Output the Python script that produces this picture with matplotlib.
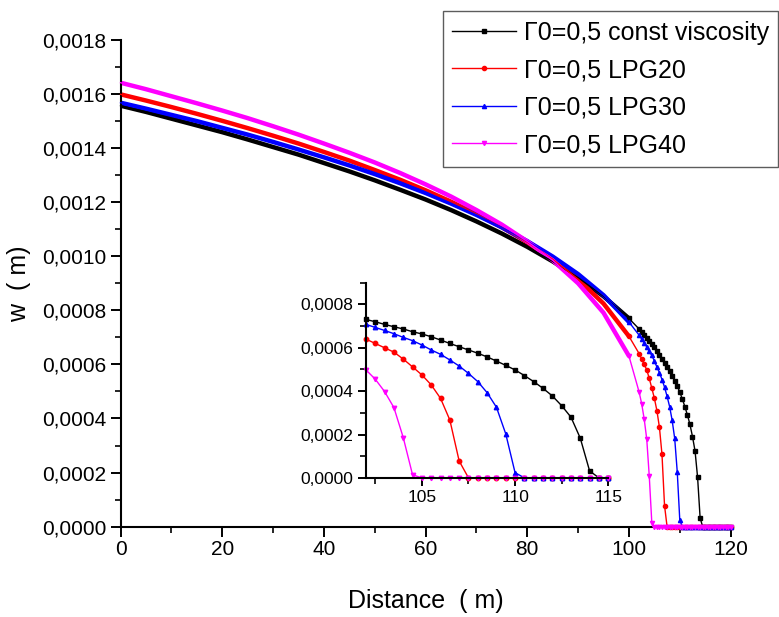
import numpy as np
import matplotlib
matplotlib.use("Agg")
import matplotlib.pyplot as plt
from matplotlib.lines import Line2D
from matplotlib.ticker import MultipleLocator, FuncFormatter

plt.rcParams['font.family'] = ['Liberation Sans', 'DejaVu Sans']

# distance (m): coarse part of the profile, then 0.5 m steps near the tip
x_coarse = [0, 5, 10, 15, 20, 25, 30, 35, 40, 45, 50,
            55, 60, 65, 70, 75, 80, 85, 90, 95, 100]
x_fine = list(np.arange(102, 120.5, 0.5))

labels = ["Γ0=0,5 const viscosity", "Γ0=0,5 LPG20",
          "Γ0=0,5 LPG30", "Γ0=0,5 LPG40"]
colors = ["black", "#ff0000", "#0000ff", "#ff00ff"]
markers = ["s", "o", "^", "v"]

# width w (m)
w_const_coarse = [0.001557, 0.001534, 0.001509, 0.001484, 0.001459, 0.001432, 0.001404,
                  0.001376, 0.001345, 0.001314, 0.001281, 0.001246, 0.001210, 0.001171,
                  0.001129, 0.001084, 0.001035, 0.000981, 0.000921, 0.000852, 0.000770]
w_lpg20_coarse = [0.001599, 0.001576, 0.001552, 0.001527, 0.001501, 0.001474, 0.001446,
                  0.001417, 0.001386, 0.001354, 0.001319, 0.001283, 0.001244, 0.001202,
                  0.001157, 0.001107, 0.001052, 0.000989, 0.000915, 0.000825, 0.000704]
w_lpg30_coarse = [0.001568, 0.001546, 0.001523, 0.001500, 0.001475, 0.001450, 0.001423,
                  0.001395, 0.001366, 0.001336, 0.001304, 0.001270, 0.001234, 0.001195,
                  0.001153, 0.001107, 0.001056, 0.000999, 0.000934, 0.000856, 0.000757]
w_lpg40_coarse = [0.001642, 0.001618, 0.001592, 0.001566, 0.001539, 0.001511, 0.001481,
                  0.001450, 0.001417, 0.001383, 0.001347, 0.001308, 0.001266, 0.001221,
                  0.001171, 0.001117, 0.001055, 0.000985, 0.000900, 0.000791, 0.000631]

w_const_fine = [0.000731, 0.000720, 0.000708, 0.000697, 0.000687, 0.000674, 0.000664,
                0.000651, 0.000636, 0.000620, 0.000605, 0.000590, 0.000575, 0.000558,
                0.000539, 0.000519, 0.000498, 0.000472, 0.000444, 0.000413, 0.000378,
                0.000333, 0.000280, 0.000183, 0.000032, 0.0, 0.0,
                0.0, 0.0, 0.0, 0.0, 0.0, 0.0, 0.0, 0.0, 0.0, 0.0]
w_lpg20_fine = [0.000640, 0.000620, 0.000600, 0.000580, 0.000548, 0.000512, 0.000475,
                0.000429, 0.000367, 0.000267, 0.000078, 0.0, 0.0, 0.0,
                0.0, 0.0, 0.0, 0.0, 0.0, 0.0, 0.0, 0.0, 0.0, 0.0, 0.0, 0.0, 0.0,
                0.0, 0.0, 0.0, 0.0, 0.0, 0.0, 0.0, 0.0, 0.0, 0.0]
w_lpg30_fine = [0.000708, 0.000694, 0.000680, 0.000665, 0.000648, 0.000633, 0.000613,
                0.000590, 0.000570, 0.000544, 0.000516, 0.000482, 0.000444, 0.000393,
                0.000326, 0.000203, 0.000024, 0.0, 0.0, 0.0, 0.0, 0.0, 0.0, 0.0,
                0.0, 0.0, 0.0, 0.0, 0.0, 0.0, 0.0, 0.0, 0.0, 0.0, 0.0, 0.0, 0.0]
w_lpg40_fine = [0.000498, 0.000455, 0.000398, 0.000324, 0.000186, 0.000014, 0.0,
                0.0, 0.0, 0.0, 0.0, 0.0, 0.0, 0.0, 0.0, 0.0, 0.0, 0.0, 0.0, 0.0,
                0.0, 0.0, 0.0, 0.0, 0.0, 0.0, 0.0, 0.0, 0.0, 0.0, 0.0, 0.0, 0.0,
                0.0, 0.0, 0.0, 0.0]

coarse = [w_const_coarse, w_lpg20_coarse, w_lpg30_coarse, w_lpg40_coarse]
fine = [w_const_fine, w_lpg20_fine, w_lpg30_fine, w_lpg40_fine]

fmt4 = FuncFormatter(lambda v, p: f"{v:.4f}".replace(".", ","))


def style_axes(ax, size, major_len, minor_len):
    ax.spines["top"].set_visible(False)
    ax.spines["right"].set_visible(False)
    for s in ("left", "bottom"):
        ax.spines[s].set_linewidth(1.5)
    ax.tick_params(which="major", direction="out", length=major_len, width=1.4,
                   labelsize=size, pad=3)
    ax.tick_params(which="minor", direction="out", length=minor_len, width=1.2)
    ax.yaxis.set_major_formatter(fmt4)


fig = plt.figure(figsize=(7.79, 6.17), dpi=100)
ax = fig.add_axes([0.1547, 0.1465, 0.7832, 0.7887])

n_c = len(x_coarse)
for wc, wf, c, m in zip(coarse, fine, colors, markers):
    x_all = x_coarse + x_fine
    y_all = wc + wf
    # thick body where the dense markers merge into a band
    ax.plot(x_coarse, wc, color=c, lw=3.2, solid_capstyle="round", zorder=2)
    ax.plot(x_all, y_all, color=c, lw=1.0, marker=m, ms=3,
            markevery=list(range(n_c - 1, len(x_all))), zorder=3, clip_on=False)

ax.set_xlim(0, 120)
ax.set_ylim(0, 0.0018)
ax.xaxis.set_major_locator(MultipleLocator(20))
ax.xaxis.set_minor_locator(MultipleLocator(10))
ax.yaxis.set_major_locator(MultipleLocator(0.0002))
ax.yaxis.set_minor_locator(MultipleLocator(0.0001))
style_axes(ax, 15, 7, 4)
ax.set_xlabel("Distance  ( m)", fontsize=18, labelpad=21)
ax.set_ylabel("w  ( m)", fontsize=18, labelpad=8)

# inset zoom on the crack tip (only the part up to 115 m)
n_in = x_fine.index(115.0) + 1
axi = fig.add_axes([0.4698, 0.2255, 0.3110, 0.3162])
for wf, c, m in zip(fine, colors, markers):
    axi.plot(x_fine[:n_in], wf[:n_in], color=c, lw=1.0, marker=m, ms=3.2,
             clip_on=False)
axi.set_xlim(102, 115)
axi.set_ylim(0, 0.0009)
axi.xaxis.set_major_locator(MultipleLocator(5))
axi.xaxis.set_minor_locator(MultipleLocator(2.5))
axi.yaxis.set_major_locator(MultipleLocator(0.0002))
axi.yaxis.set_minor_locator(MultipleLocator(0.0001))
style_axes(axi, 12.5, 6, 4)
axi.patch.set_alpha(0)

handles = [Line2D([], [], color=c, lw=1.0, marker=m, ms=3) for c, m in zip(colors, markers)]
leg = fig.legend(handles, labels, loc="upper right", bbox_to_anchor=(0.999, 0.982),
                 fontsize=18, frameon=True, fancybox=False, handlelength=2.55,
                 handletextpad=0.3, labelspacing=0.54, borderpad=0.38, borderaxespad=0)
leg.get_frame().set_edgecolor("#333333")
leg.get_frame().set_linewidth(1.0)

fig.savefig("out.png", dpi=100)
